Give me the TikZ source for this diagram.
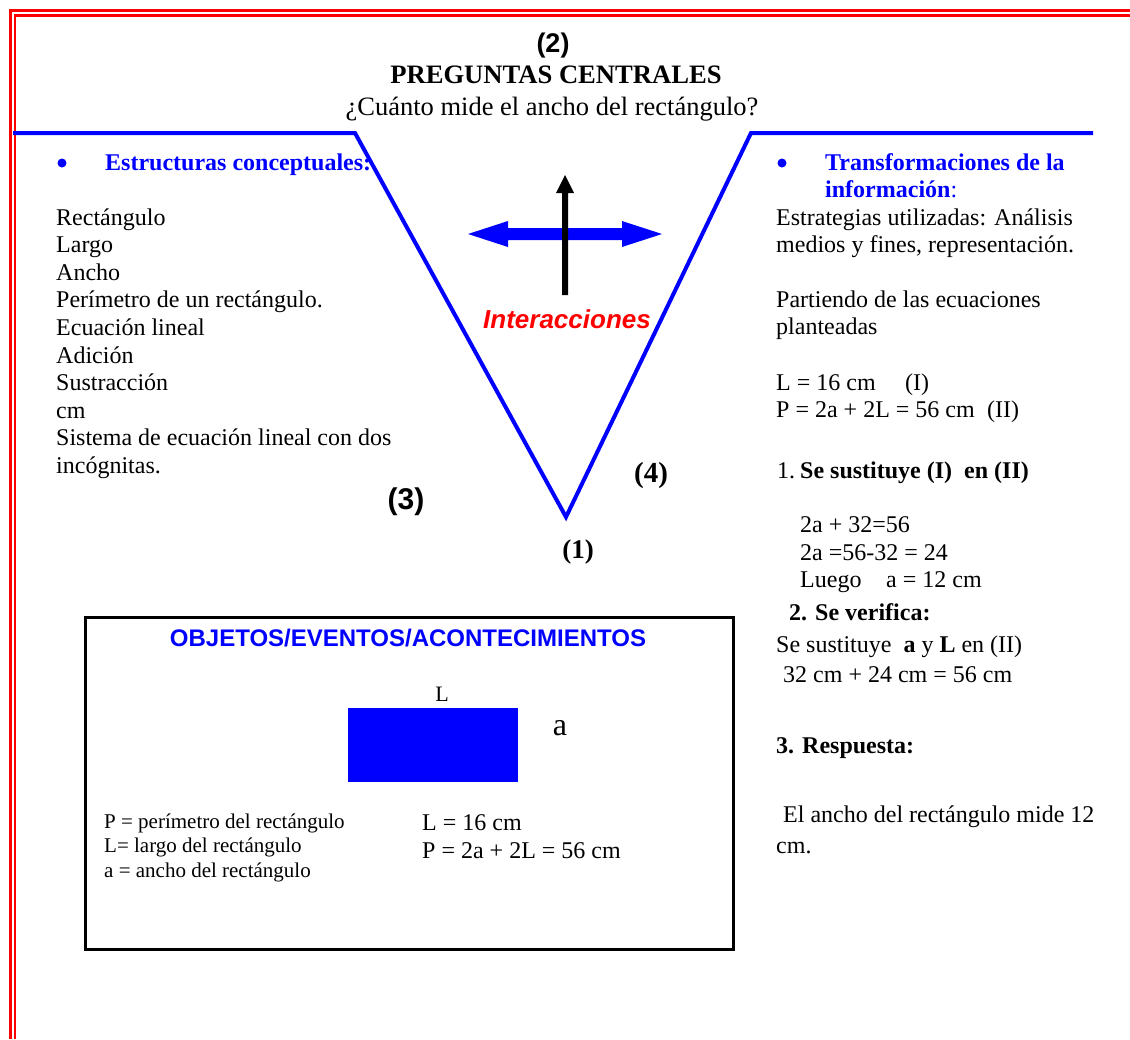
\documentclass[tikz,border=0pt]{standalone}
\usepackage{fontspec}
\setmainfont{Liberation Serif}
\newfontfamily\arialfam{Liberation Sans}
\newcommand{\fsz}[1]{\fontsize{#1}{#1}\selectfont}
\definecolor{pureblue}{RGB}{0,0,255}
\definecolor{purered}{RGB}{255,0,0}
\tikzset{
  txt/.style={anchor=base west, inner sep=0pt, font=\fsz{24}},
  ctxt/.style={anchor=base, inner sep=0pt},
  frame/.style={purered, line width=2.8pt},
  vline/.style={pureblue, line width=4pt},
  head/.style={txt, text=pureblue, font=\fsz{24}\bfseries},
  dot/.style={circle, fill=pureblue, inner sep=0pt, minimum size=9pt},
  small/.style={txt, font=\fsz{21}}
}
\begin{document}
\begin{tikzpicture}[x=1pt, y=-1pt]
\useasboundingbox (0,0) rectangle (1130,1039);

% double red frame
\draw[frame] (10.5,1039) -- (10.5,10.5) -- (1130,10.5);
\draw[frame] (15,1039) -- (15,15.2) -- (1130,15.2);

% the V
\coordinate (vl0) at (13,133);
\coordinate (vl) at (355,133);
\coordinate (vb) at (566,517);
\coordinate (vr) at (751,133);
\coordinate (vr0) at (1093,133);
\draw[vline] (vl0) -- (vl) -- (vb) -- (vr) -- (vr0);

% header
\node[ctxt, font=\arialfam\bfseries\fsz{27}] (num2) at (553,52) {(2)};
\node[ctxt, font=\bfseries\fsz{26.6}] (pc) at (556,83) {PREGUNTAS CENTRALES};
\node[ctxt, font=\fsz{26.5}] (q) at (552,115) {¿Cuánto mide el ancho del rectángulo?};

% interaction arrows
\fill[pureblue] (468,234) -- (508,221) -- (508,228) -- (622,228) -- (622,221)
  -- (662,234) -- (622,247) -- (622,240) -- (508,240) -- (508,247) -- cycle;
\fill[black] (562,295) -- (562,193) -- (556,193) -- (565,175) -- (574,193)
  -- (568,193) -- (568,295) -- cycle;
\node[ctxt, text=purered, font=\arialfam\bfseries\itshape\fsz{26}] (inter) at (567,328) {Interacciones};

% left column
\node[dot] (b1) at (62,163) {};
\node[head] (h1) at (105,170) {Estructuras conceptuales:};
\foreach \t [count=\i from 0] in {Rectángulo, Largo, Ancho, Perímetro de un rectángulo.,
  Ecuación lineal, Adición, Sustracción, cm, Sistema de ecuación lineal con dos, incógnitas.}
  \node[txt] (c\i) at (56,225+27.6*\i) {\t};

% numbered labels
\node[ctxt, font=\arialfam\bfseries\fsz{30}] (num3) at (406,509) {(3)};
\node[ctxt, font=\bfseries\fsz{29}] (num4) at (651,482) {(4)};
\node[ctxt, font=\bfseries\fsz{27}] (num1) at (578,558) {(1)};

% right column
\node[dot] (b2) at (782,163) {};
\node[head] (h2a) at (825,170) {Transformaciones de la};
\node[txt, text=pureblue] (h2b) at (825,197) {\textbf{información}:};
\node[txt] (r1) at (776,225) {Estrategias utilizadas: Análisis};
\node[txt] (r2) at (776,252) {medios y fines, representación.};
\node[txt] (r3) at (776,307) {Partiendo de las ecuaciones};
\node[txt] (r4) at (776,334) {planteadas};
\node[txt] (r5) at (776,390) {L = 16 cm};
\node[txt] (r5b) at (905,390) {(I)};
\node[txt] (r6) at (776,417) {P = 2a + 2L = 56 cm};
\node[txt] (r6b) at (987,417) {(II)};
\node[txt] (s1n) at (777,478) {1.};
\node[txt, font=\fsz{24}\bfseries] (s1) at (800,478) {Se sustituye (I)\ \ en (II)};
\node[txt] (s1a) at (800,532) {2a + 32=56};
\node[txt] (s1b) at (800,560) {2a =56-32 = 24};
\node[txt] (s1c) at (800,587) {Luego};
\node[txt] (s1d) at (886,587) {a = 12 cm};
\node[txt, font=\fsz{24}\bfseries] (s2) at (789,620) {2. Se verifica:};
\node[txt] (s2a) at (776,652) {Se sustituye\ \ \textbf{a} y \textbf{L} en (II)};
\node[txt] (s2b) at (783,682) {32 cm + 24 cm = 56 cm};
\node[txt, font=\fsz{24}\bfseries] (s3) at (776,753) {3. Respuesta:};
\node[txt] (s3a) at (783,822) {El ancho del rectángulo mide 12};
\node[txt] (s3b) at (776,853) {cm.};

% objects / events box
\draw[line width=3pt] (85,617) rectangle (733,949);
\node[ctxt, text=pureblue, font=\arialfam\bfseries\fsz{24}] (ot) at (408,646) {OBJETOS/EVENTOS/ACONTECIMIENTOS};
\fill[pureblue] (348,708) rectangle (518,782);
\node[ctxt, font=\fsz{22}] (lL) at (442,701) {L};
\node[ctxt, font=\fsz{32}] (la) at (560,735) {a};
\node[small] (d1) at (104,828) {P = perímetro del rectángulo};
\node[small] (d2) at (104,852) {L= largo del rectángulo};
\node[small] (d3) at (104,877) {a = ancho del rectángulo};
\node[txt] (e1) at (422,830) {L = 16 cm};
\node[txt] (e2) at (422,858) {P = 2a + 2L = 56 cm};
\end{tikzpicture}
\end{document}
